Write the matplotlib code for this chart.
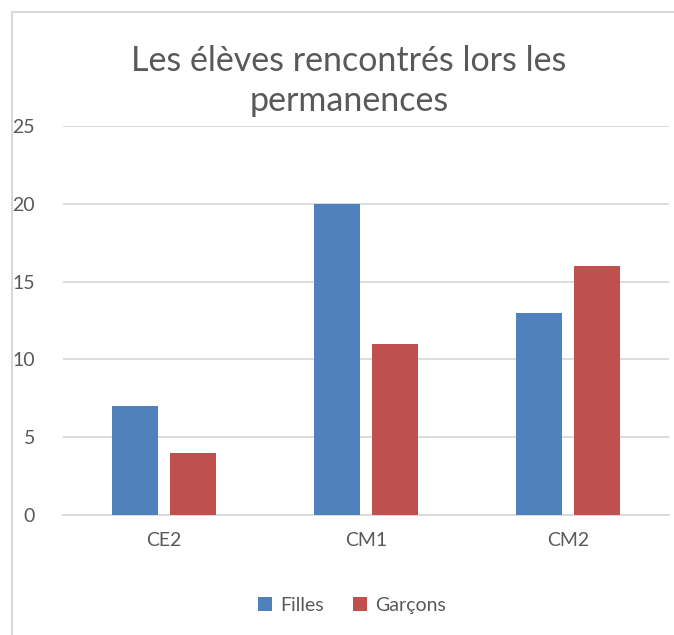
import matplotlib.pyplot as plt
from matplotlib.patches import Rectangle
import numpy as np

plt.rcParams['font.family'] = ['Lato', 'DejaVu Sans']

categories = ['CE2', 'CM1', 'CM2']
filles = [7, 20, 13]
garcons = [4, 11, 16]
yticks = [0, 5, 10, 15, 20, 25]

BLEU = '#4f81bd'
ROUGE = '#c0504d'
GRIS = '#595959'
GRILLE = '#d9d9d9'

fig = plt.figure(figsize=(6.74, 6.35), dpi=100)
ax = fig.add_axes([0.0935, 0.189, 0.899, 0.6125])

x = np.arange(len(categories))
w = 0.228
ax.bar(x - 0.143, filles, w, color=BLEU, label='Filles', zorder=3)
ax.bar(x + 0.143, garcons, w, color=ROUGE, label='Garçons', zorder=3)

ax.set_xlim(-0.5, 2.5)
ax.set_ylim(0, 25)
ax.set_yticks(yticks)
ax.set_xticks(x)
ax.set_xticklabels(categories)
ax.yaxis.grid(True, color=GRILLE, lw=1.3, zorder=0)
ax.tick_params(length=0, labelsize=14, colors=GRIS)
ax.tick_params(axis='y', pad=20)
ax.tick_params(axis='x', pad=12)
for s in ['top', 'right', 'left']:
    ax.spines[s].set_visible(False)
ax.spines['bottom'].set_color(GRILLE)
ax.spines['bottom'].set_linewidth(1.3)

fig.text(0.518, 0.872, 'Les élèves rencontrés lors les\npermanences', ha='center',
         va='center', fontsize=24.5, color=GRIS, linespacing=1.32)

ax.legend(loc='center', bbox_to_anchor=(0.522, 0.047), bbox_transform=fig.transFigure,
          ncol=2, frameon=False, fontsize=14, handlelength=0.75, handleheight=0.75,
          handletextpad=0.4, columnspacing=1.5, labelcolor=GRIS)

# cadre du graphique (coupé à droite et en bas)
fig.patches.append(Rectangle((12 / 674, -0.1), 2, 1.1 - 12 / 635, transform=fig.transFigure,
                             fill=False, edgecolor=GRILLE, lw=1.5))

fig.savefig('out.png', dpi=100)
